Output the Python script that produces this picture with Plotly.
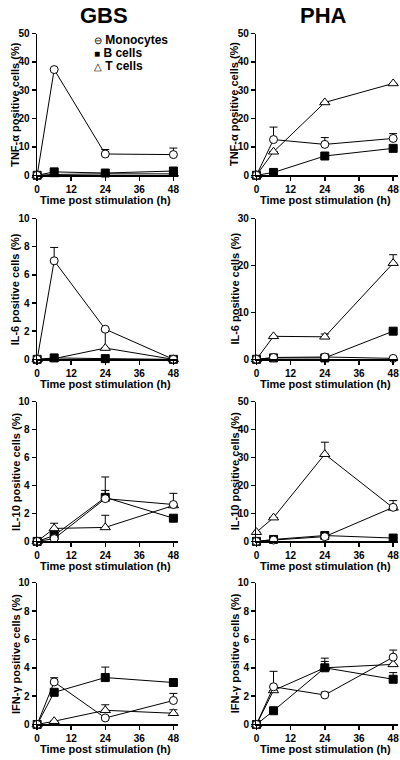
import plotly.graph_objects as go

# ---------------- data ----------------
time_h = [0, 6, 24, 48]
series_names = ["Monocytes", "B cells", "T cells"]

# GBS
gbs_tnf_mono = [0, 37.3, 7.5, 7.3]
gbs_tnf_mono_err = [0, 0, 1.6, 2.3]
gbs_tnf_b = [0, 1.2, 0.8, 1.5]
gbs_tnf_b_err = [0, 0, 0, 0]
gbs_tnf_t = [0, 0.3, 0.5, 0.5]
gbs_tnf_t_err = [0, 0, 0, 0]

gbs_il6_mono = [0, 7.0, 2.14, 0.0]
gbs_il6_mono_err = [0, 0.95, 0, 0]
gbs_il6_b = [0, 0.1, 0.05, 0.0]
gbs_il6_b_err = [0, 0, 0, 0]
gbs_il6_t = [0, 0.05, 0.8, 0.0]
gbs_il6_t_err = [0, 0, 1.2, 0]

gbs_il10_mono = [0, 0.2, 3.06, 2.64]
gbs_il10_mono_err = [0, 0, 1.55, 0.8]
gbs_il10_b = [0, 0.42, 3.15, 1.66]
gbs_il10_b_err = [0, 0, 0.5, 0]
gbs_il10_t = [0, 0.93, 1.0, 2.57]
gbs_il10_t_err = [0, 0.37, 0.87, 0]

gbs_ifn_mono = [0, 3.0, 0.46, 1.69]
gbs_ifn_mono_err = [0, 0.3, 0, 0.5]
gbs_ifn_b = [0, 2.27, 3.31, 2.96]
gbs_ifn_b_err = [0, 0, 0.74, 0]
gbs_ifn_t = [0, 0.23, 1.0, 0.79]
gbs_ifn_t_err = [0, 0, 0.39, 0.25]

# PHA
pha_tnf_mono = [0, 12.6, 10.9, 13.0]
pha_tnf_mono_err = [0, 4.4, 2.4, 1.7]
pha_tnf_b = [0, 1.0, 6.8, 9.5]
pha_tnf_b_err = [0, 0, 0, 0]
pha_tnf_t = [0, 8.3, 25.7, 32.4]
pha_tnf_t_err = [0, 0, 0, 0]

pha_il6_mono = [0, 0.4, 0.5, 0.2]
pha_il6_mono_err = [0, 0, 0, 0]
pha_il6_b = [0, 0.3, 0.3, 6.0]
pha_il6_b_err = [0, 0, 0, 0.4]
pha_il6_t = [0, 4.9, 4.8, 20.5]
pha_il6_t_err = [0, 0, 0.6, 1.8]

pha_il10_mono = [0, 0.5, 1.7, 12.2]
pha_il10_mono_err = [0, 0, 0, 2.4]
pha_il10_b = [0, 0.7, 2.1, 1.2]
pha_il10_b_err = [0, 0, 0, 0]
pha_il10_t = [3.3, 8.5, 31.2, 12.0]
pha_il10_t_err = [0, 0, 4.3, 0]

pha_ifn_mono = [0, 2.66, 2.08, 4.75]
pha_ifn_mono_err = [0, 1.09, 0.2, 0.5]
pha_ifn_b = [0, 0.97, 4.0, 3.19]
pha_ifn_b_err = [0, 0, 0.45, 0.47]
pha_ifn_t = [0, 2.4, 4.0, 4.24]
pha_ifn_t_err = [0, 0, 0.68, 0]

x_ticks = [0, 12, 24, 36, 48]
column_titles = ["GBS", "PHA"]
row_ylabels = ["TNF-α positive cells (%)", "IL-6 positive cells (%)",
               "IL-10 positive cells (%)", "IFN-γ positive cells (%)"]
x_label = "Time post stimulation (h)"

panels = [
    # (col, row, ymax, dtick, [(vals, err) for mono, b, t])
    (0, 0, 50, 10, [(gbs_tnf_mono, gbs_tnf_mono_err), (gbs_tnf_b, gbs_tnf_b_err), (gbs_tnf_t, gbs_tnf_t_err)]),
    (1, 0, 50, 10, [(pha_tnf_mono, pha_tnf_mono_err), (pha_tnf_b, pha_tnf_b_err), (pha_tnf_t, pha_tnf_t_err)]),
    (0, 1, 10, 2, [(gbs_il6_mono, gbs_il6_mono_err), (gbs_il6_b, gbs_il6_b_err), (gbs_il6_t, gbs_il6_t_err)]),
    (1, 1, 30, 10, [(pha_il6_mono, pha_il6_mono_err), (pha_il6_b, pha_il6_b_err), (pha_il6_t, pha_il6_t_err)]),
    (0, 2, 10, 2, [(gbs_il10_mono, gbs_il10_mono_err), (gbs_il10_b, gbs_il10_b_err), (gbs_il10_t, gbs_il10_t_err)]),
    (1, 2, 50, 10, [(pha_il10_mono, pha_il10_mono_err), (pha_il10_b, pha_il10_b_err), (pha_il10_t, pha_il10_t_err)]),
    (0, 3, 10, 2, [(gbs_ifn_mono, gbs_ifn_mono_err), (gbs_ifn_b, gbs_ifn_b_err), (gbs_ifn_t, gbs_ifn_t_err)]),
    (1, 3, 10, 2, [(pha_ifn_mono, pha_ifn_mono_err), (pha_ifn_b, pha_ifn_b_err), (pha_ifn_t, pha_ifn_t_err)]),
]

# ---------------- layout geometry (pixels) ----------------
W, H = 400, 760
col_px = [(34.5, 177.0), (256.0, 399.0)]
row_px = [(28, 172), (216, 359), (402, 544), (586, 730)]
x_max = 49.7

FONT = "Liberation Sans, Arial, Helvetica, sans-serif"
symbols = [
    dict(symbol="circle", color="white", size=8, line=dict(color="black", width=1)),
    dict(symbol="square", color="black", size=8, line=dict(color="black", width=1)),
    dict(symbol="triangle-up", color="white", size=9, line=dict(color="black", width=1)),
]
draw_order = [2, 1, 0]

fig = go.Figure()
layout = dict(
    width=W, height=H, margin=dict(l=0, r=0, t=0, b=0),
    paper_bgcolor="white", plot_bgcolor="white", showlegend=False,
    font=dict(family=FONT, color="black"),
)
annotations = []

for i, (col, row, ymax, dtick, series) in enumerate(panels):
    n = i + 1
    xa = "xaxis" if n == 1 else f"xaxis{n}"
    ya = "yaxis" if n == 1 else f"yaxis{n}"
    xr = "x" if n == 1 else f"x{n}"
    yr = "y" if n == 1 else f"y{n}"
    x0, x1 = col_px[col]
    y0, y1 = row_px[row]
    layout[xa] = dict(
        domain=[x0 / W, x1 / W], range=[0, x_max], anchor=yr,
        tickvals=x_ticks, showgrid=False, zeroline=False,
        showline=True, linecolor="black", linewidth=1.5,
        ticks="outside", ticklen=4, tickwidth=1.5, tickcolor="black",
        tickfont=dict(family=FONT, size=10, color="black", weight="bold"),
        fixedrange=True,
    )
    layout[ya] = dict(
        domain=[1 - y1 / H, 1 - y0 / H], range=[0, ymax], anchor=xr,
        tick0=0, dtick=dtick, showgrid=False, zeroline=False,
        showline=True, linecolor="black", linewidth=1.5,
        ticks="outside", ticklen=4, tickwidth=1.5, tickcolor="black",
        tickfont=dict(family=FONT, size=10, color="black", weight="bold"),
        fixedrange=True,
    )
    for k in draw_order:
        vals, err = series[k]
        fig.add_trace(go.Scatter(
            x=time_h, y=vals, mode="lines+markers", name=series_names[k],
            xaxis=xr, yaxis=yr, cliponaxis=False, hoverinfo="skip",
            line=dict(color="black", width=1),
            marker=symbols[k],
            error_y=dict(type="data", symmetric=False, array=err,
                         arrayminus=[0] * len(err), color="black",
                         thickness=1, width=4),
        ))
    # axis titles
    annotations.append(dict(
        text=f"<b>{x_label}</b>", xref="paper", yref="paper",
        x=((x0 + x1) / 2 - 2) / W, y=1 - (y1 + 25) / H,
        showarrow=False, font=dict(family=FONT, size=11, color="black"),
        xanchor="center", yanchor="middle"))
    annotations.append(dict(
        text=f"<b>{row_ylabels[row]}</b>", xref="paper", yref="paper",
        x=(x0 - 22) / W, y=1 - ((y0 + y1) / 2) / H, textangle=-90,
        showarrow=False, font=dict(family=FONT, size=11, color="black"),
        xanchor="center", yanchor="middle"))

# column titles
for col, title in enumerate(column_titles):
    x0, x1 = col_px[col]
    annotations.append(dict(
        text=f"<b>{title}</b>", xref="paper", yref="paper",
        x=((x0 + x1) / 2 - 4) / W, y=1 - 10 / H,
        showarrow=False, font=dict(family=FONT, size=22, color="black"),
        xanchor="center", yanchor="middle"))

# legend (text with symbols)
legend_glyphs = ["⊖", "■", "△"]
for j, name in enumerate(series_names):
    annotations.append(dict(
        text=f"<span style='font-size:10px'>{legend_glyphs[j]}</span> <b>{name}</b>",
        xref="paper", yref="paper",
        x=90 / W, y=1 - (35 + 13 * j) / H,
        showarrow=False, font=dict(family=FONT, size=12, color="black"),
        xanchor="left", yanchor="middle"))

layout["annotations"] = annotations
fig.update_layout(**layout)
fig.write_html(
    "out.html",
    config={"displayModeBar": False, "staticPlot": True},
    post_script="document.body.style.margin='0';document.body.style.overflow='hidden';",
)
